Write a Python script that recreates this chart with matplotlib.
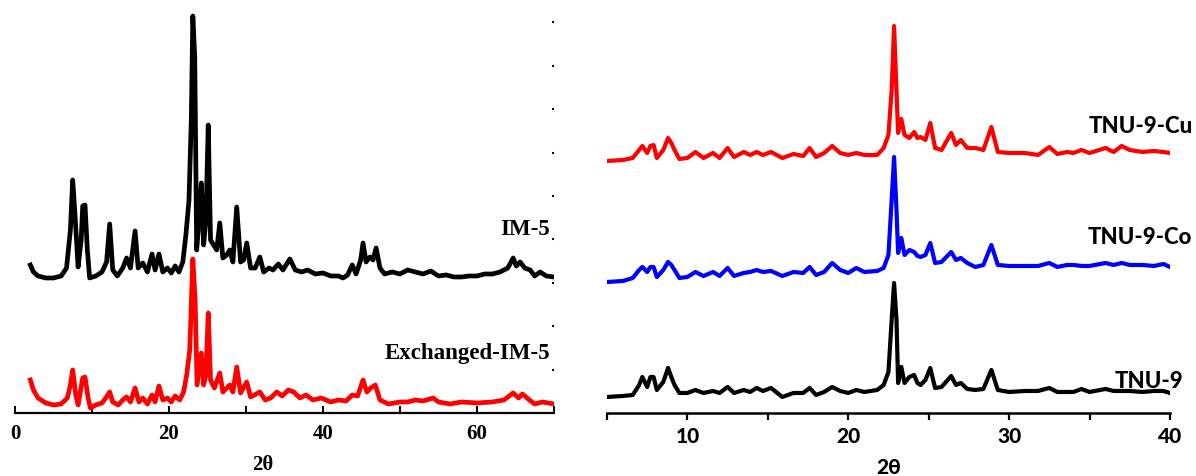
import matplotlib
matplotlib.use("Agg")
import matplotlib.pyplot as plt
from matplotlib.ticker import MultipleLocator

# XRD-Daten, Intensitaet in willkuerlichen Einheiten (gestapelt)
im5_2theta = [2.0, 2.4, 3.0, 4.0, 5.0, 6.0, 6.7, 7.2, 7.5, 7.8, 8.2, 8.6, 8.8, 9.1, 9.4, 9.7,
              10.5, 11.3, 11.9, 12.3, 12.7, 13.3, 14.0, 14.5, 15.0, 15.6, 16.0, 16.6, 17.2, 17.8,
              18.2, 18.7, 19.2, 19.8, 20.3, 20.8, 21.3, 21.8, 22.2, 22.6, 22.9, 23.1, 23.35, 23.6,
              23.9, 24.2, 24.5, 24.8, 25.1, 25.4, 25.8, 26.2, 26.6, 27.0, 27.5, 27.9, 28.3, 28.8,
              29.3, 29.7, 30.1, 30.6, 31.2, 31.8, 32.3, 33.0, 33.5, 34.2, 34.8, 35.7, 36.4, 37.2,
              38.0, 39.0, 40.0, 41.0, 42.0, 42.6, 43.2, 43.8, 44.3, 44.9, 45.2, 45.6, 46.1, 46.5,
              46.9, 47.4, 48.0, 49.0, 50.0, 51.0, 52.0, 53.0, 54.0, 55.0, 56.0, 57.0, 58.0, 59.0,
              60.0, 61.0, 62.0, 63.0, 64.0, 64.7, 65.1, 65.6, 66.2, 66.9, 67.5, 68.2, 69.0, 70.0]
im5_int = [148, 141, 137, 135, 135, 137, 145, 183, 233, 198, 146, 173, 207, 208, 163, 135,
           137, 141, 151, 189, 143, 137, 145, 155, 145, 182, 145, 150, 141, 159,
           143, 159, 141, 145, 140, 147, 141, 151, 178, 213, 293, 397, 356, 163,
           193, 230, 168, 193, 288, 173, 168, 163, 190, 155, 158, 163, 151, 206,
           151, 153, 170, 145, 145, 156, 141, 145, 143, 149, 143, 154, 143, 141,
           143, 139, 140, 137, 137, 135, 138, 148, 139, 153, 170, 151, 156, 153,
           165, 145, 139, 141, 139, 143, 141, 139, 142, 137, 138, 136, 136, 137,
           137, 139, 139, 141, 145, 155, 147, 151, 145, 143, 137, 141, 137, 136]

exim5_2theta = [2.0, 2.4, 3.0, 4.0, 5.0, 6.0, 6.8, 7.2, 7.5, 7.9, 8.2, 8.8, 9.1, 9.5, 9.8,
                10.5, 11.3, 11.8, 12.3, 12.7, 13.4, 14.0, 14.5, 15.0, 15.6, 16.1, 16.6, 17.2,
                17.8, 18.2, 18.7, 19.2, 19.8, 20.3, 20.8, 21.4, 21.9, 22.3, 22.7, 23.1, 23.4,
                23.65, 24.2, 24.5, 24.8, 25.1, 25.4, 25.9, 26.6, 27.0, 27.9, 28.3, 28.8, 29.3,
                30.1, 30.6, 31.8, 32.5, 33.2, 34.0, 34.7, 35.5, 36.2, 37.0, 37.8, 38.7, 39.8,
                41.0, 42.0, 43.0, 43.8, 44.5, 45.2, 45.7, 46.2, 46.8, 47.4, 48.5, 50.0, 51.0,
                52.0, 53.0, 54.3, 55.0, 56.5, 58.0, 60.0, 62.0, 63.5, 64.7, 65.4, 65.9, 66.8,
                67.5, 68.5, 70.0]
exim5_int = [33, 23, 15, 10, 8, 9, 15, 28, 43, 18, 8, 35, 36, 15, 5,
             8, 10, 15, 21, 11, 8, 13, 16, 11, 25, 11, 15, 9,
             18, 11, 27, 13, 15, 11, 17, 13, 21, 38, 63, 154, 113,
             28, 60, 28, 38, 100, 33, 25, 40, 21, 28, 21, 46, 20,
             31, 16, 21, 13, 15, 21, 17, 23, 21, 15, 18, 13, 15,
             11, 13, 12, 18, 17, 33, 21, 25, 28, 13, 9, 11, 11,
             13, 12, 15, 11, 9, 11, 10, 11, 13, 20, 15, 19, 13,
             9, 11, 9]

tnu_2theta = [5.0, 6.0, 6.6, 7.0, 7.2, 7.5, 7.7, 7.9, 8.1, 8.5, 8.8, 9.0, 9.2, 9.5, 10.0,
              10.5, 11.0, 11.6, 12.0, 12.5, 12.9, 13.5, 13.9, 14.3, 14.7, 15.2, 15.9, 16.6,
              17.2, 17.6, 18.0, 18.5, 19.0, 19.5, 20.0, 20.5, 21.0, 21.8, 22.2, 22.5, 22.7,
              22.85, 23.0, 23.1, 23.3, 23.5, 23.8, 24.1, 24.3, 24.5, 24.8, 25.1, 25.4, 25.8,
              26.4, 26.7, 27.0, 27.4, 27.9, 28.4, 28.9, 29.3, 30.0, 31.0, 31.8, 32.5, 33.0,
              33.6, 34.0, 34.5, 35.0, 36.0, 36.5, 37.0, 37.5, 38.3, 39.0, 39.6, 40.0]
tnu9_cu = [252, 253, 255, 263, 267, 260, 267, 268, 255, 263, 275, 270, 263, 254, 255,
           261, 255, 260, 255, 265, 256, 261, 258, 261, 258, 261, 255, 259,
           257, 265, 256, 260, 267, 260, 258, 260, 258, 258, 265, 278, 323,
           387, 323, 280, 294, 278, 275, 281, 275, 276, 273, 290, 265, 263,
           280, 268, 273, 265, 265, 263, 286, 261, 260, 260, 258, 266, 259,
           261, 260, 263, 260, 265, 261, 267, 263, 261, 262, 261, 260]
tnu9_co = [131, 132, 135, 143, 146, 141, 146, 146, 136, 143, 151, 148, 143, 135, 136,
           141, 137, 141, 137, 145, 137, 140, 141, 143, 141, 142, 137, 141,
           140, 146, 138, 141, 150, 143, 140, 145, 141, 142, 145, 158, 213,
           256, 203, 160, 175, 158, 163, 161, 157, 156, 158, 170, 150, 151,
           161, 153, 155, 150, 146, 148, 168, 148, 147, 147, 147, 150, 146,
           148, 148, 147, 147, 150, 148, 150, 148, 148, 147, 149, 146]
tnu9 = [16, 17, 18, 28, 36, 26, 36, 36, 23, 31, 45, 36, 28, 20, 20,
        23, 20, 22, 20, 26, 20, 23, 21, 25, 22, 25, 16, 20,
        20, 25, 18, 21, 26, 22, 20, 23, 21, 23, 28, 41, 93,
        130, 93, 30, 46, 30, 36, 38, 30, 28, 33, 45, 25, 26,
        37, 28, 30, 24, 23, 24, 43, 23, 21, 22, 22, 25, 21,
        21, 21, 24, 21, 24, 22, 22, 22, 21, 22, 22, 20]

fig = plt.figure(figsize=(11.96, 4.76), dpi=100)
ax1 = fig.add_axes([0.0125, 0.1324, 0.4507, 0.8466])
ax2 = fig.add_axes([0.5075, 0.1324, 0.4707, 0.8466])

serif = {"family": "Liberation Serif", "weight": "bold"}
sans = {"family": "Lato", "weight": "black"}

# linkes Bild: IM-5
ax1.plot(im5_2theta, im5_int, color="black", lw=3.4, solid_joinstyle="round")
ax1.plot(exim5_2theta, exim5_int, color="red", lw=3.4, solid_joinstyle="round")
ax1.set_xlim(0, 70)
ax1.set_ylim(0, 403)
for s in ["top", "left", "right"]:
    ax1.spines[s].set_visible(False)
ax1.spines["bottom"].set_linewidth(1.6)
ax1.xaxis.set_major_locator(MultipleLocator(20))
ax1.xaxis.set_minor_locator(MultipleLocator(10))
ax1.tick_params(axis="x", which="both", direction="in", length=5, width=1.4, pad=8)
ax1.yaxis.set_major_locator(MultipleLocator(43.4))
ax1.yaxis.tick_right()
ax1.tick_params(axis="y", which="major", direction="in", length=1.5, width=1.5, labelright=False)
for lab in ax1.get_xticklabels():
    lab.set_fontproperties(serif)
    lab.set_fontsize(15)
ax1.set_xlabel("2θ", fontdict=serif, fontsize=15)
ax1.xaxis.set_label_coords(0.46, -0.13)
ax1.xaxis.label.set_va("center")
ax1.text(69.5, 183, "IM-5", ha="right", va="center", fontsize=16.5, **serif)
ax1.text(69.5, 59, "Exchanged-IM-5", ha="right", va="center", fontsize=16.5, **serif)

# rechtes Bild: TNU-9
ax2.plot(tnu_2theta, tnu9_cu, color="red", lw=3.0, solid_joinstyle="round")
ax2.plot(tnu_2theta, tnu9_co, color="blue", lw=3.0, solid_joinstyle="round")
ax2.plot(tnu_2theta, tnu9, color="black", lw=3.0, solid_joinstyle="round")
ax2.set_xlim(5, 40)
ax2.set_ylim(0, 403)
for s in ["top", "left", "right"]:
    ax2.spines[s].set_visible(False)
ax2.spines["bottom"].set_linewidth(1.8)
ax2.set_yticks([])
ax2.xaxis.set_major_locator(MultipleLocator(10))
ax2.xaxis.set_minor_locator(MultipleLocator(5))
ax2.tick_params(axis="x", which="both", direction="out", length=5, width=1.6, pad=5)
for lab in ax2.get_xticklabels():
    lab.set_fontproperties(sans)
    lab.set_fontsize(15)
ax2.set_xlabel("2θ", fontdict=sans, fontsize=15)
ax2.xaxis.set_label_coords(0.5, -0.135)
ax2.xaxis.label.set_va("center")
ax2.text(41.4, 286, "TNU-9-Cu", ha="right", va="center", fontsize=16, clip_on=False, **sans)
ax2.text(41.4, 175, "TNU-9-Co", ha="right", va="center", fontsize=16, clip_on=False, **sans)
ax2.text(40.8, 31, "TNU-9", ha="right", va="center", fontsize=16, clip_on=False, **sans)

fig.savefig("out.png", dpi=100)
